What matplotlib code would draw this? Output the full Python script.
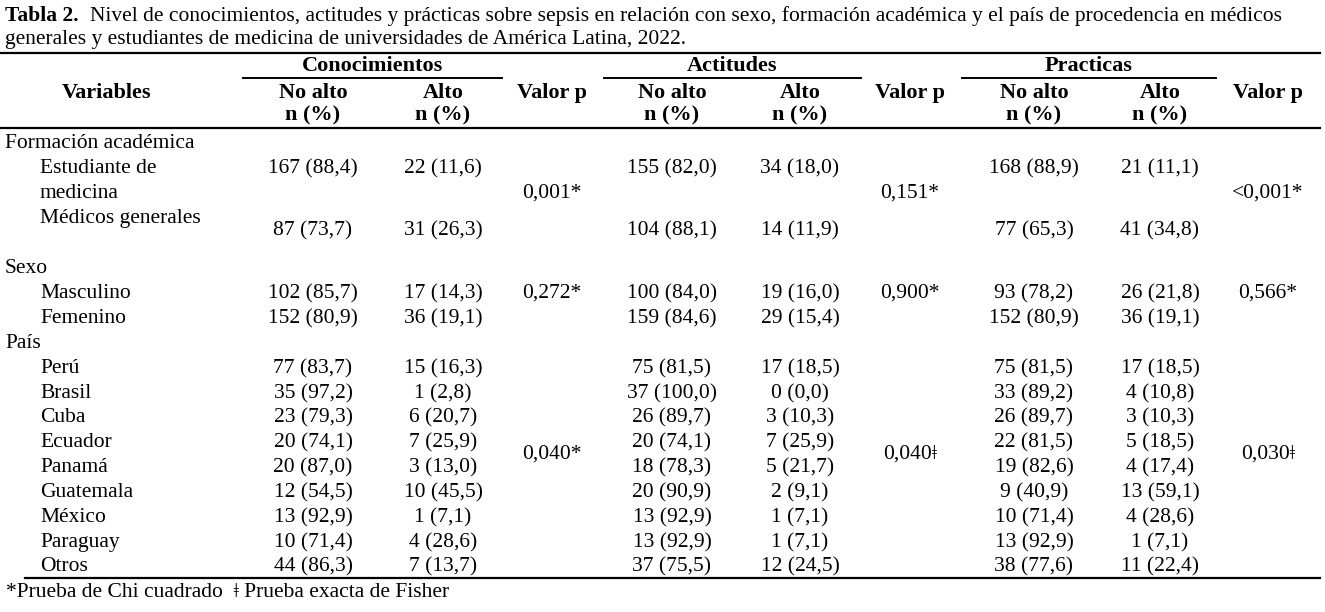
"""
Tabla 2: conocimientos, actitudes y practicas sobre sepsis.
Salida: out.png
"""

import matplotlib.pyplot as plt

plt.rcParams.update({
    "font.family": ["Liberation Serif", "DejaVu Serif"],
    "font.size": 15.5,
})

# -- Datos --
TITLE_BOLD = "Tabla 2."
TITLE_1 = ("Nivel de conocimientos, actitudes y prácticas sobre sepsis en relación con sexo, "
           "formación académica y el país de procedencia en médicos")
TITLE_2 = "generales y estudiantes de medicina de universidades de América Latina, 2022."

GROUPS = ["Conocimientos", "Actitudes", "Practicas"]
SUBHEAD = ["No alto", "Alto"]

SECTIONS = ["Formación académica", "Sexo", "País"]
ROW_LABELS = ["Estudiante de\nmedicina", "Médicos generales", "Masculino", "Femenino",
              "Perú", "Brasil", "Cuba", "Ecuador", "Panamá", "Guatemala", "México",
              "Paraguay", "Otros"]

con_no = ["167 (88,4)", "87 (73,7)", "102 (85,7)", "152 (80,9)", "77 (83,7)", "35 (97,2)",
          "23 (79,3)", "20 (74,1)", "20 (87,0)", "12 (54,5)", "13 (92,9)", "10 (71,4)",
          "44 (86,3)"]
con_si = ["22 (11,6)", "31 (26,3)", "17 (14,3)", "36 (19,1)", "15 (16,3)", "1 (2,8)",
          "6 (20,7)", "7 (25,9)", "3 (13,0)", "10 (45,5)", "1 (7,1)", "4 (28,6)", "7 (13,7)"]
act_no = ["155 (82,0)", "104 (88,1)", "100 (84,0)", "159 (84,6)", "75 (81,5)", "37 (100,0)",
          "26 (89,7)", "20 (74,1)", "18 (78,3)", "20 (90,9)", "13 (92,9)", "13 (92,9)",
          "37 (75,5)"]
act_si = ["34 (18,0)", "14 (11,9)", "19 (16,0)", "29 (15,4)", "17 (18,5)", "0 (0,0)",
          "3 (10,3)", "7 (25,9)", "5 (21,7)", "2 (9,1)", "1 (7,1)", "1 (7,1)", "12 (24,5)"]
pra_no = ["168 (88,9)", "77 (65,3)", "93 (78,2)", "152 (80,9)", "75 (81,5)", "33 (89,2)",
          "26 (89,7)", "22 (81,5)", "19 (82,6)", "9 (40,9)", "10 (71,4)", "13 (92,9)",
          "38 (77,6)"]
pra_si = ["21 (11,1)", "41 (34,8)", "26 (21,8)", "36 (19,1)", "17 (18,5)", "4 (10,8)",
          "3 (10,3)", "5 (18,5)", "4 (17,4)", "13 (59,1)", "4 (28,6)", "1 (7,1)", "11 (22,4)"]

p_con = ["0,001*", "0,272*", "0,040*"]
p_act = ["0,151*", "0,900*", "0,040\u01c2"]
p_pra = ["<0,001*", "0,566*", "0,030\u01c2"]

FOOTER = "*Prueba de Chi cuadrado  \u01c2 Prueba exacta de Fisher"

# -- Layout (pixeles, y = linea base) --
W, H = 1325, 612
SEC_Y = [148, 273, 348]
ROW_Y = [173, 235, 298, 323, 373, 398, 422, 447, 472, 497, 522, 547, 571]
LABEL_Y = [173, 223] + ROW_Y[2:]
P_Y = [198, 298, 459]
GROUP_X = [(243, 502), (604, 861), (962, 1216)]
COL_X = [313, 443, 672, 800, 1034, 1160]
PCOL_X = [552, 910, 1268]
HEAD_SIZE = 16

fig = plt.figure(figsize=(W / 100, H / 100), dpi=100)
ax = fig.add_axes([0, 0, 1, 1])
ax.set_xlim(0, W)
ax.set_ylim(H, 0)
ax.axis("off")

# titulo
t1 = ax.text(5, 21, TITLE_BOLD, fontweight="bold", va="baseline", ha="left")
ax.annotate(TITLE_1, xy=(1, 0), xycoords=t1, xytext=(8, 0), textcoords="offset points",
            va="bottom", ha="left")
ax.text(5, 44, TITLE_2, va="baseline", ha="left")

# reglas
ax.plot([0, 1320], [52.5, 52.5], color="black", lw=1.6)
ax.plot([0, 1320], [128, 128], color="black", lw=1.6)
ax.plot([25, 1320], [578, 578], color="black", lw=1.6)

# encabezado
hd = dict(fontweight="bold", ha="center", va="baseline", fontsize=HEAD_SIZE)
ax.text(107, 98, "Variables", **hd)
for g, (x0, x1) in zip(GROUPS, GROUP_X):
    ax.text((x0 + x1) / 2, 71, g, **hd)
    ax.plot([x0, x1], [78, 78], color="black", lw=1.4)
for i, x in enumerate(COL_X):
    ax.text(x, 98, SUBHEAD[i % 2], **hd)
    ax.text(x, 120, "n (%)", **hd)
for x in PCOL_X:
    ax.text(x, 98, "Valor p", **hd)

# cuerpo
for s, y in zip(SECTIONS, SEC_Y):
    ax.text(5, y, s, ha="left", va="baseline")
for lab, y in zip(ROW_LABELS, LABEL_Y):
    for k, part in enumerate(lab.split("\n")):
        ax.text(40, y + 25 * k, part, ha="left", va="baseline")

cols = [con_no, con_si, act_no, act_si, pra_no, pra_si]
for col, x in zip(cols, COL_X):
    for val, y in zip(col, ROW_Y):
        ax.text(x, y, val, ha="center", va="baseline")

for pcol, x in zip([p_con, p_act, p_pra], PCOL_X):
    for val, y in zip(pcol, P_Y):
        ax.text(x, y, val, ha="center", va="baseline")

ax.text(6, 597, FOOTER, ha="left", va="baseline")

fig.savefig("out.png", dpi=100)
